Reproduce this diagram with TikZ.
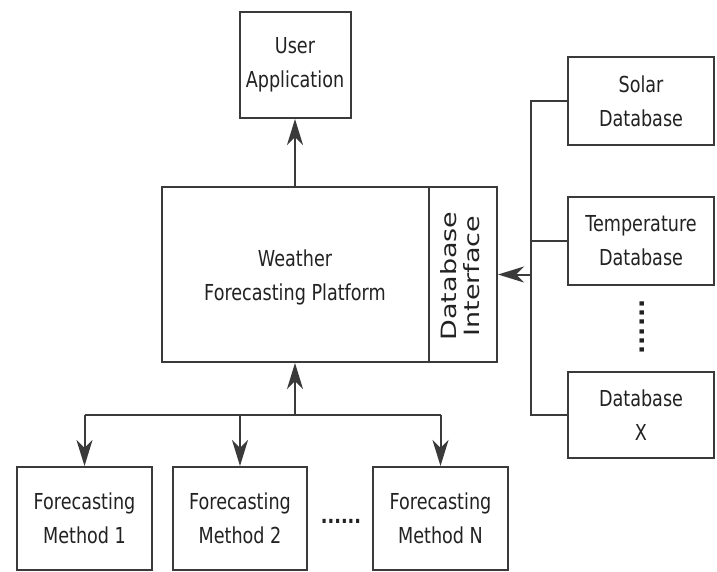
\documentclass[tikz,border=0pt]{standalone}
\usepackage{fontspec}
\setmainfont{DejaVu Sans}[FakeStretch=0.8]
\newfontfamily\vfont{DejaVu Sans}
\usetikzlibrary{arrows.meta}
\definecolor{ln}{HTML}{3A3A3A}
\definecolor{tx}{HTML}{222222}
\tikzset{
  box/.style={draw=ln, line width=2pt, rectangle, inner sep=0pt, align=center,
    text=tx, font=\fontsize{22}{34}\selectfont},
  conn/.style={draw=ln, line width=2pt},
  arr/.style={draw=ln, line width=2pt, arrows={-Stealth[length=26pt,width=16pt,inset=8pt]}},
  lbl/.style={text=tx, align=center, font=\fontsize{22}{34}\selectfont, inner sep=0pt}
}
\begin{document}
\begin{tikzpicture}[x=1pt,y=-1pt]
\useasboundingbox[fill=white] (0,0) rectangle (717,572);
% boxes
\node[box, minimum width=111pt, minimum height=106pt] (ua) at (295,65) {User\\Application};
\node[box, minimum width=335pt, minimum height=175pt] (wfp) at (329.5,274.5) {};
\node[lbl] (wfpt) at (295,277) {Weather\\Forecasting Platform};
\coordinate (dv) at (429,187);
\draw[conn] (dv) -- (dv |- wfp.south);
\node[text=tx, rotate=90, inner sep=0pt] (dbi) at (463,276)
  {\scalebox{1}[0.78]{\vfont\fontsize{27}{28}\selectfont\begin{tabular}{@{}c@{}}Database\\Interface\end{tabular}}};
\node[box, minimum width=146pt, minimum height=88pt] (sol) at (641,101) {Solar\\Database};
\node[box, minimum width=146pt, minimum height=88pt] (tmp) at (641,241) {Temperature\\Database};
\node[box, minimum width=146pt, minimum height=86pt] (dbx) at (641,415) {Database\\X};
\node[box, minimum width=135pt, minimum height=103pt] (f1) at (84.5,518.5) {Forecasting\\Method 1};
\node[box, minimum width=134pt, minimum height=103pt] (f2) at (240,518.5) {Forecasting\\Method 2};
\node[box, minimum width=135pt, minimum height=103pt] (fn) at (440.5,518.5) {Forecasting\\Method N};
% dots
\node[text=tx, inner sep=0pt, font=\fontsize{22}{22}\selectfont\bfseries] (hd) at (341,521) {......};
\node[text=tx, inner sep=0pt, rotate=90, font=\vfont\fontsize{24}{24}\selectfont\bfseries] (vd) at (642,327) {......};
% connectors
\draw[arr] (ua.south |- wfp.north) -- (ua.south);
\coordinate (bj) at (295,415);
\draw[arr] (bj) -- (bj |- wfp.south);
\draw[conn] (f1.north |- bj) -- (fn.north |- bj);
\draw[arr] (f1.north |- bj) -- (f1.north);
\draw[arr] (f2.north |- bj) -- (f2.north);
\draw[arr] (fn.north |- bj) -- (fn.north);
\coordinate (rb) at (531,415);
\draw[conn] (sol.west) -- (sol.west -| rb) -- (dbx.west -| rb) -- (dbx.west);
\draw[conn] (tmp.west) -- (tmp.west -| rb);
\draw[arr] (wfp.east -| rb) -- (wfp.east);
\end{tikzpicture}
\end{document}
